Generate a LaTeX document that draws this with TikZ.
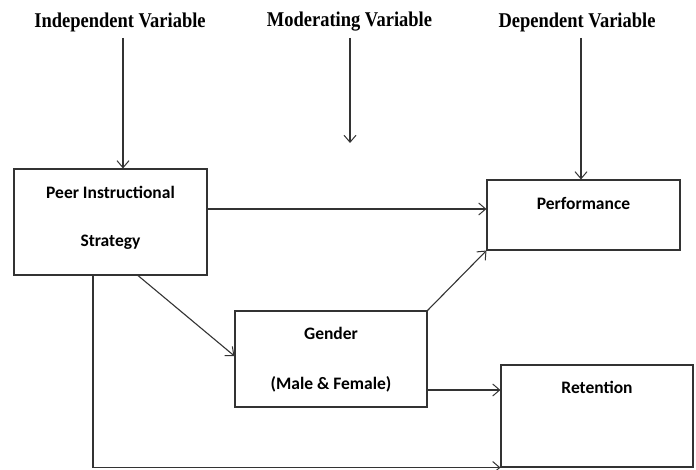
\documentclass[tikz,border=0pt]{standalone}
\usepackage{fontspec}
\setmainfont{Liberation Serif}
\newfontfamily\boxfont{Carlito}
\usetikzlibrary{arrows.meta}
\tikzset{
  title/.style={font=\fontsize{21}{24}\selectfont\bfseries, inner sep=0pt, xscale=0.88},
  boxtext/.style={font=\boxfont\fontsize{17.5}{20}\selectfont\bfseries, inner sep=0pt},
  varbox/.style={draw=black!80, line width=1.1pt, rectangle, inner sep=0pt},
  conn/.style={draw=black!80, line width=1.1pt, -{Straight Barb[length=7pt,width=12pt,line width=1pt]}},
}
\begin{document}
\begin{tikzpicture}[x=1pt,y=-1pt]
\useasboundingbox (0,0) rectangle (696,470);
% titles
\node[title] (ind) at (120,22) {Independent Variable};
\node[title] (mod) at (349.5,22) {Moderating Variable};
\node[title] (dep) at (577,22) {Dependent Variable};
% boxes
\node[varbox, minimum width=193pt, minimum height=106pt] (pis) at (110.5,222) {};
\node[varbox, minimum width=193pt, minimum height=70pt] (perf) at (583.5,215) {};
\node[varbox, minimum width=192pt, minimum height=96pt] (gen) at (331,359) {};
\node[varbox, minimum width=192pt, minimum height=102pt] (ret) at (597,416) {};
% box texts
\node[boxtext] (t1) at (110.5,192) {Peer Instructional};
\node[boxtext] (t2) at (110.5,242) {Strategy};
\node[boxtext] (t3) at (583.5,203) {Performance};
\node[boxtext] (t4) at (331,333) {Gender};
\node[boxtext] (t5) at (331,384) {(Male \& Female)};
\node[boxtext] (t6) at (597,387) {Retention};
% helper coordinates
\coordinate (a1) at (123,38);
\coordinate (a2) at (350,38);
\coordinate (a2end) at (350,143);
\coordinate (a3) at (581,38);
\coordinate (v1) at (93,0);
\coordinate (d1) at (138,0);
% connectors
\draw[conn] (a1) -- (a1 |- pis.north);
\draw[conn] (a2) -- (a2end);
\draw[conn] (a3) -- (a3 |- perf.north);
\draw[conn] (pis.east |- 0,209) -- (perf.west |- 0,209);
\draw[conn] (d1 |- pis.south) -- ([yshift=3pt]gen.west);
\draw[conn] (gen.north east) -- (perf.south west);
\draw[conn] (gen.east |- 0,390) -- (ret.west |- 0,390);
\draw[conn] (v1 |- pis.south) -- (v1 |- ret.south) -- (ret.south west);
\end{tikzpicture}
\end{document}
